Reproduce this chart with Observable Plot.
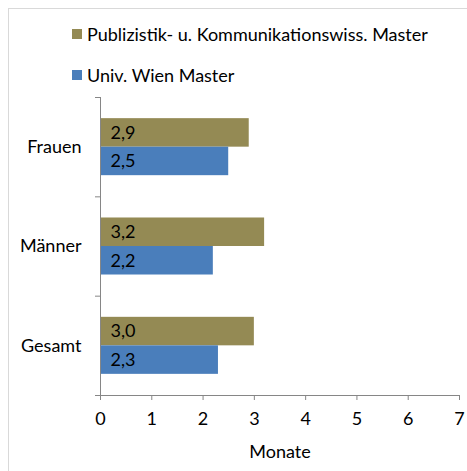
<!DOCTYPE html>
<html>
<head>
<meta charset="utf-8">
<script src="https://cdn.jsdelivr.net/npm/d3@7"></script>
<script src="https://cdn.jsdelivr.net/npm/@observablehq/plot@0.6"></script>
<style>
  html, body { margin: 0; padding: 0; background: #fff; }
  #wrap { position: relative; width: 467px; height: 471px; overflow: hidden; background: #fff; font-family: Lato, "Open Sans", sans-serif; }
  #border { position: absolute; left: 8px; top: 8px; width: 600px; height: 600px; border-top: 1px solid #d9d9d9; border-left: 1px solid #d9d9d9; }
  #chart { position: absolute; left: 0; top: 0; }
  .leg { position: absolute; left: 72px; display: flex; align-items: center; font-size: 18px; line-height: 18px; color: #000; white-space: nowrap; }
  .sw { width: 10px; height: 10px; margin-right: 5px; }
</style>
</head>
<body>
<div id="wrap">
  <div id="border"></div>
  <div id="chart"></div>
  <div id="legend"></div>
</div>
<script>
const categories = ["Frauen", "Männer", "Gesamt"];
const seriesNames = ["Publizistik- u. Kommunikationswiss. Master", "Univ. Wien Master"];
const publizistikValues = [2.9, 3.2, 3.0];
const univWienValues = [2.5, 2.2, 2.3];
const xTicks = [0, 1, 2, 3, 4, 5, 6, 7];
const seriesColors = ["#948A54", "#4A7EBB"];

const axisColor = "#868686";
const barThickness = 0.287; // fraction of a category band per bar

const data = categories.flatMap((c, i) => [
  {category: c, idx: i, s: 0, series: seriesNames[0], value: publizistikValues[i]},
  {category: c, idx: i, s: 1, series: seriesNames[1], value: univWienValues[i]}
]);

const fmt = v => v.toFixed(1).replace(".", ",");
const y1 = d => d.idx + 0.5 - barThickness + d.s * barThickness;
const y2 = d => d.idx + 0.5 + d.s * barThickness;

const chart = Plot.plot({
  width: 467,
  height: 471,
  marginLeft: 100,
  marginRight: 8,
  marginTop: 97,
  marginBottom: 76,
  style: {fontFamily: "Lato, 'Open Sans', sans-serif", fontSize: "18px", color: "#000", background: "transparent", overflow: "visible"},
  x: {domain: [0, 7]},
  y: {domain: [0, categories.length], reverse: true},
  color: {domain: seriesNames, range: seriesColors},
  marks: [
    Plot.rectX(data, {x1: 0, x2: "value", y1, y2, fill: "series"}),
    Plot.text(data, {x: 0, y: d => (y1(d) + y2(d)) / 2, text: d => fmt(d.value), textAnchor: "start", dx: 10, fill: "#000", fontSize: 18}),
    Plot.ruleX([0], {stroke: axisColor}),
    Plot.ruleY([categories.length], {stroke: axisColor}),
    Plot.axisY({ticks: d3.range(categories.length + 1), tickFormat: () => "", tickSize: 5, stroke: axisColor, label: null}),
    Plot.axisY({ticks: categories.map((c, i) => i + 0.5), tickFormat: v => categories[Math.floor(v)], tickSize: 0, tickPadding: 19, label: null, fill: "#000", fontSize: 18}),
    Plot.axisX({ticks: xTicks, tickFormat: d3.format("d"), tickSize: 5, tickPadding: 12, stroke: axisColor, fill: "#000", label: "Monate", labelAnchor: "center", labelArrow: "none", labelOffset: 62, fontSize: 18})
  ]
});
document.getElementById("chart").appendChild(chart);

const legend = document.getElementById("legend");
const legendTops = [25, 66];
seriesNames.forEach((name, i) => {
  const row = document.createElement("div");
  row.className = "leg";
  row.style.top = legendTops[i] + "px";
  const sw = document.createElement("div");
  sw.className = "sw";
  sw.style.background = seriesColors[i];
  const t = document.createElement("span");
  t.textContent = name;
  row.appendChild(sw);
  row.appendChild(t);
  legend.appendChild(row);
});
</script>
</body>
</html>
